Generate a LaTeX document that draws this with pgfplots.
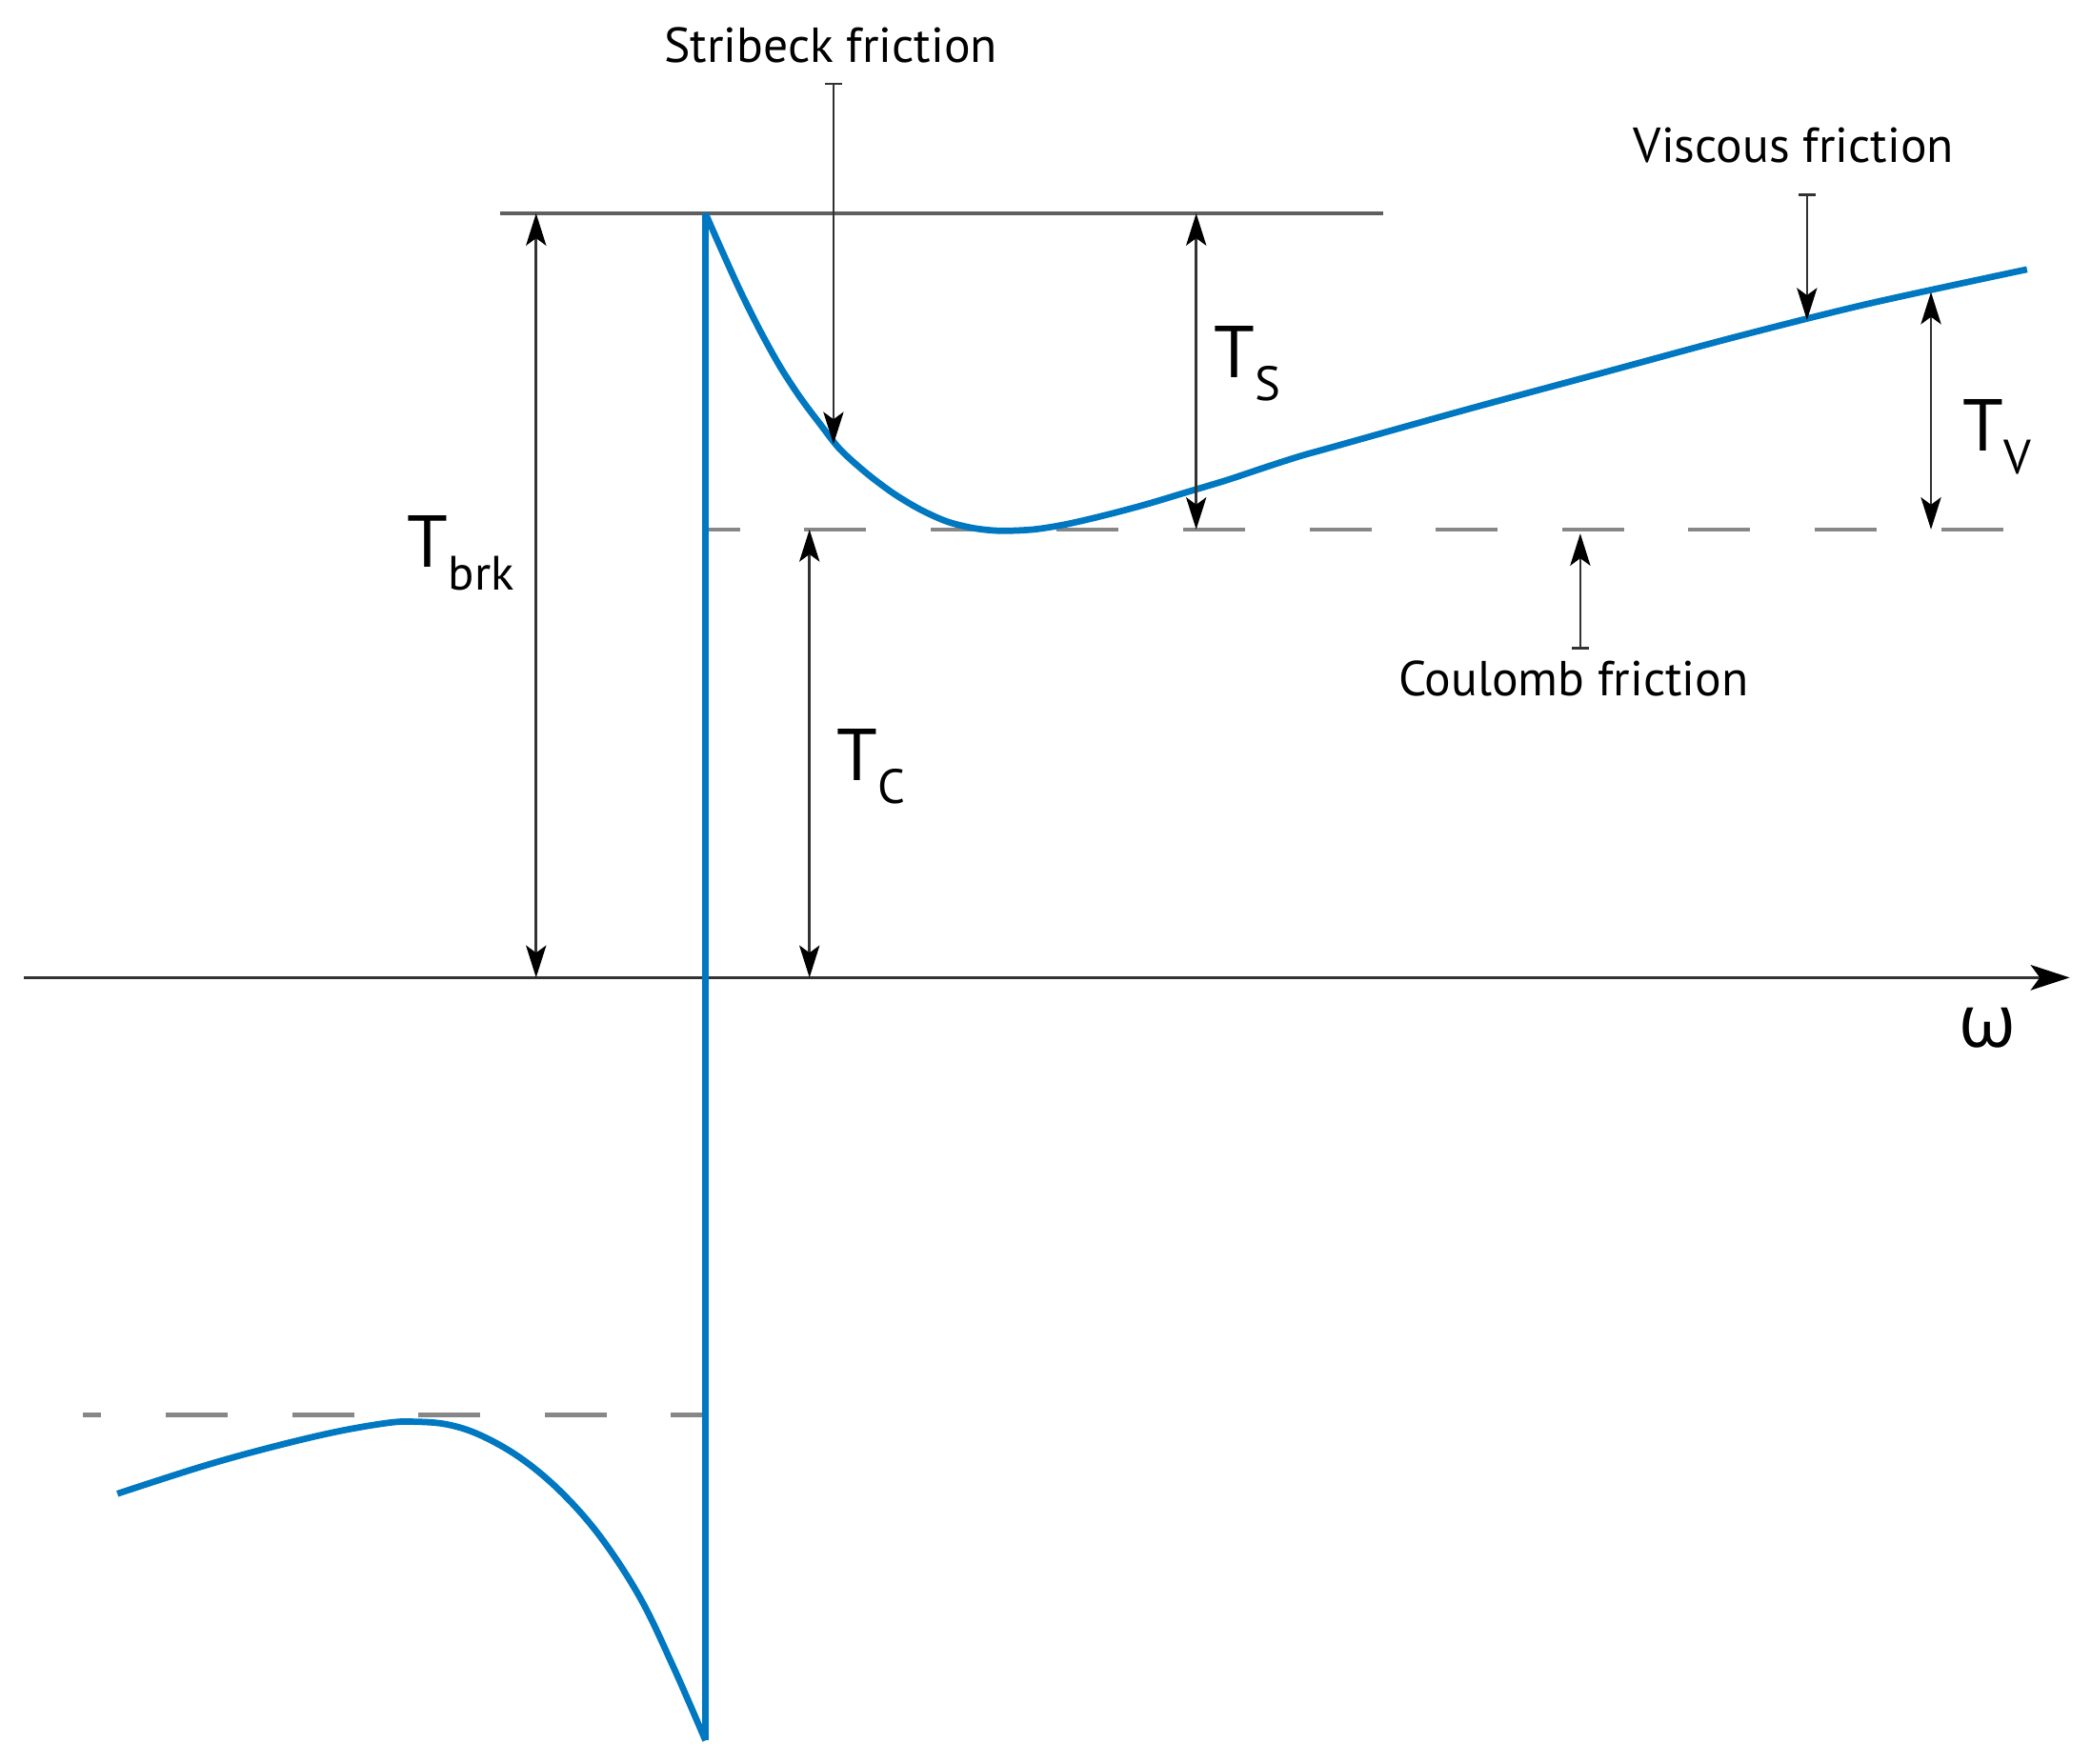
\documentclass[border=0pt]{standalone}
\usepackage{fontspec}
\setmainfont{PT Sans}
\newfontfamily\greekfont{Open Sans}
\usepackage{pgfplots}
\pgfplotsset{compat=1.18}
\usetikzlibrary{arrows.meta}

\definecolor{curveblue}{RGB}{0,120,193}
\definecolor{dashgray}{RGB}{135,135,135}
\definecolor{linegray}{RGB}{50,50,50}
\definecolor{refgray}{RGB}{95,95,95}

% coordinates are in picture pixels (x right, y = -row)
\newcommand{\lbl}{\fontsize{10.7}{12}\selectfont}
\newcommand{\Tsym}[1]{{\fontsize{16}{16}\selectfont T}\raisebox{-5pt}{\fontsize{10.5}{10.5}\selectfont #1}}

\tikzset{
  dim/.style={linegray, line width=0.55pt, {Stealth[length=7pt,width=4.4pt,inset=1.6pt,black]}-{Stealth[length=7pt,width=4.4pt,inset=1.6pt,black]}},
  pointer/.style={linegray, line width=0.55pt, {Bar[width=3.6pt]}-{Stealth[length=7pt,width=4.4pt,inset=1.6pt,black]}},
}

\begin{document}
\begin{tikzpicture}
\begin{axis}[
    width=16cm, height=13.493cm, scale only axis,
    hide axis, clip=false,
    xmin=0, xmax=1568, ymin=-1322, ymax=0,
  ]
  \path (axis cs:0,-1322) rectangle (axis cs:1568,0);

  % Coulomb level (dashed)
  \addplot[dashgray, line width=0.9pt, dash pattern=on 13.5pt off 14pt, dash phase=6pt]
    coordinates {(529,-397) (1522,-397)};
  \addplot[dashgray, line width=0.9pt, dash pattern=on 13.5pt off 14pt, dash phase=6pt]
    coordinates {(529,-1061) (62,-1061)};

  % breakaway level
  \addplot[refgray, line width=0.75pt] coordinates {(375,-160) (1037,-160)};

  % omega axis
  \draw[linegray, line width=0.65pt, -{Stealth[length=8.5pt,width=5.5pt,inset=2pt,black]}]
    (axis cs:18,-733) -- (axis cs:1552,-733);

  % friction curve, positive speed
  \addplot[curveblue, line width=1.4pt, smooth, tension=0.5] coordinates {
    (529,-160) (540,-185) (555,-218) (570,-248) (585,-275) (600,-298)
    (615,-318) (630,-337) (650,-355) (670,-370) (690,-382) (710,-391)
    (730,-396) (750,-398) (775,-397) (800,-393) (830,-386) (860,-378)
    (890,-369) (920,-360) (950,-350) (975,-342) (1000,-335) (1100,-307)
    (1200,-280) (1300,-253) (1400,-228) (1520,-202)
  };
  % jump at zero speed
  \addplot[curveblue, line width=1.4pt] coordinates {(529,-160) (529,-1305)};
  % friction curve, negative speed
  \addplot[curveblue, line width=1.4pt, smooth, tension=0.6] coordinates {
    (88,-1120) (150,-1100) (200,-1086) (250,-1074) (290,-1067) (310,-1066)
    (335,-1068) (360,-1076) (390,-1093) (420,-1118) (450,-1152) (480,-1198)
    (505,-1250) (529,-1305)
  };

  % dimension arrows
  \draw[dim] (axis cs:402,-160) -- (axis cs:402,-733);
  \draw[dim] (axis cs:897,-160) -- (axis cs:897,-397);
  \draw[dim] (axis cs:607,-397) -- (axis cs:607,-733);
  \draw[dim] (axis cs:1448,-219) -- (axis cs:1448,-397);

  \node[anchor=base west, inner sep=0pt] at (axis cs:305,-425) {\Tsym{brk}};
  \node[anchor=base west, inner sep=0pt] at (axis cs:910,-283) {\Tsym{S}};
  \node[anchor=base west, inner sep=0pt] at (axis cs:627,-585) {\Tsym{C}};
  \node[anchor=base west, inner sep=0pt] at (axis cs:1471,-338) {\Tsym{V}};

  % pointers
  \draw[pointer] (axis cs:625,-62) -- (axis cs:625,-333);
  \node[anchor=base, inner sep=0pt] at (axis cs:623,-47) {\lbl Stribeck friction};
  \draw[pointer] (axis cs:1355,-145) -- (axis cs:1355,-240);
  \node[anchor=base, inner sep=0pt] at (axis cs:1345,-122) {\lbl Viscous friction};
  \draw[pointer] (axis cs:1185,-487) -- (axis cs:1185,-400);
  \node[anchor=base, inner sep=0pt] at (axis cs:1180,-522) {\lbl Coulomb friction};

  \node[anchor=base, inner sep=0pt] at (axis cs:1490,-785) {\greekfont\fontsize{16}{16}\selectfont ω};
\end{axis}
\end{tikzpicture}
\end{document}
